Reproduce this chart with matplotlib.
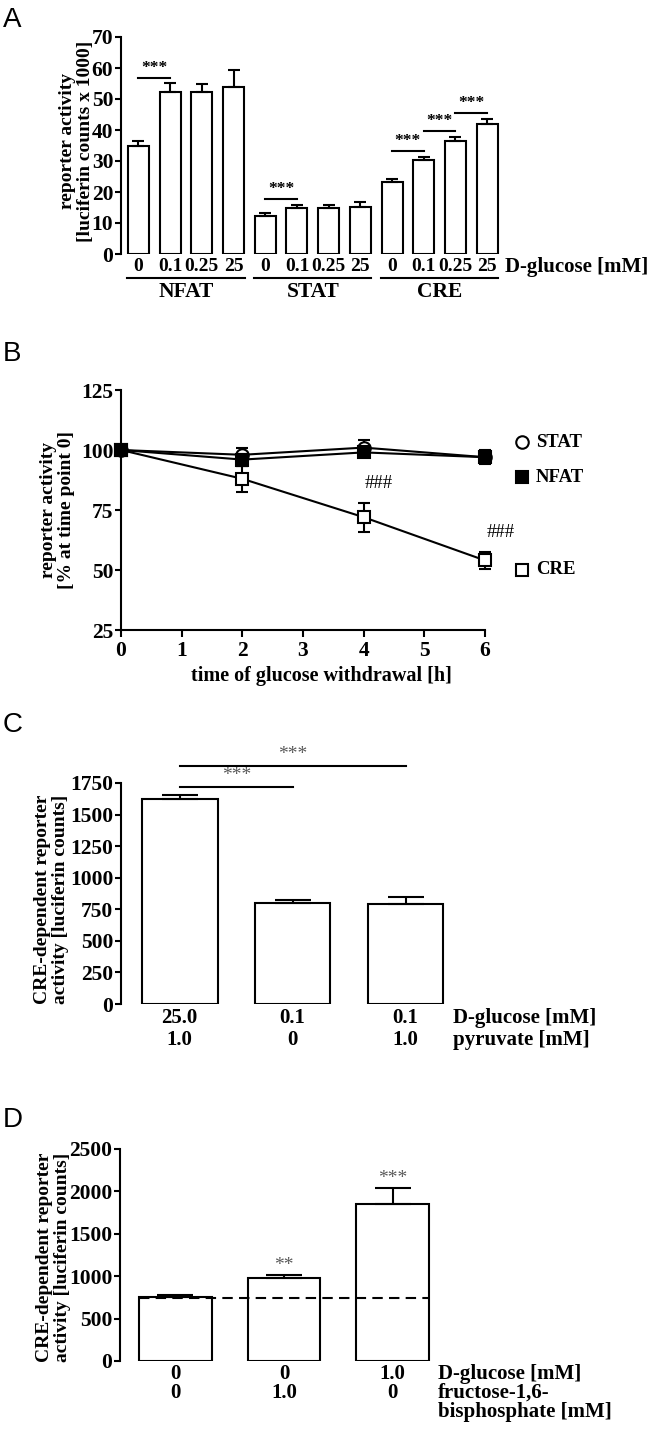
import matplotlib
matplotlib.use('Agg')
from matplotlib import pyplot as plt
import numpy as np

plt.rcParams['font.family'] = ['Liberation Serif', 'DejaVu Serif']
plt.rcParams['font.weight'] = 'bold'
plt.rcParams['axes.labelweight'] = 'bold'
plt.rcParams['axes.linewidth'] = 1.5

# panel A: reporter activity vs D-glucose
glucose_a = ['0', '0.1', '0.25', '25']
reporters_a = ['NFAT', 'STAT', 'CRE']
act_a = [35.0, 52.3, 52.3, 53.8, 12.4, 14.9, 14.9, 15.3, 23.3, 30.4, 36.3, 42.0]
err_a = [1.5, 2.8, 2.4, 5.4, 0.8, 1.0, 1.0, 1.5, 0.9, 1.0, 1.5, 1.7]
sig_a = [(0, 1), (4, 5), (8, 9), (9, 10), (10, 11)]

# panel B: time course of glucose withdrawal
hours_b = [0, 2, 4, 6]
stat_b = [100, 98, 101, 97]
stat_err_b = [0, 3, 3, 2]
nfat_b = [100, 96, 99, 97]
nfat_err_b = [0, 2.5, 2, 3]
cre_b = [100, 88, 72, 54]
cre_err_b = [0, 5.5, 6, 3.5]
hash_b = [4, 6]

# panel C: pyruvate
glucose_c = ['25.0', '0.1', '0.1']
pyruvate_c = ['1.0', '0', '1.0']
cre_c = [1625, 800, 795]
cre_err_c = [30, 20, 52]
sig_c = [(0, 1), (0, 2)]

# panel D: fructose-1,6-bisphosphate
glucose_d = ['0', '0', '1.0']
fbp_d = ['0', '1.0', '0']
cre_d = [755, 980, 1852]
cre_err_d = [23, 34, 190]
stars_d = ['', '**', '***']
baseline_d = 740

W, H = 652, 1431
fig = plt.figure(figsize=(W / 100, H / 100), dpi=100)


def axes_px(left, top, right, bottom):
    return fig.add_axes([left / W, 1 - bottom / H, (right - left) / W, (bottom - top) / H])


def style(ax, bottom=False):
    for s in ['top', 'right']:
        ax.spines[s].set_visible(False)
    ax.spines['bottom'].set_visible(bottom)
    ax.tick_params(axis='y', direction='out', length=4.5, width=1.5, pad=1, labelsize=15.5)


def letter(y, s):
    fig.text(3 / W, 1 - y / H, s, family='Liberation Sans', weight='normal',
             fontsize=20, va='center', ha='left')


# ---------------- A ----------------
ax = axes_px(121, 37, 503, 254)
style(ax)
xa = np.arange(len(act_a))
ax.bar(xa, act_a, width=0.66, color='white', edgecolor='black', linewidth=1.5,
       yerr=[np.zeros(len(err_a)), err_a], capsize=4.5,
       error_kw=dict(elinewidth=1.5, capthick=1.5))
ax.set_xlim(-0.55, 11.5)
ax.set_ylim(0, 70)
ax.set_yticks(range(0, 71, 10))
ax.set_xticks(xa)
ax.set_xticklabels(glucose_a * 3, fontsize=14)
ax.tick_params(axis='x', length=0, pad=3)
tops = np.array(act_a) + np.array(err_a)
for i, j in sig_a:
    y = max(tops[i], tops[j]) + 1.8
    ax.plot([i, j], [y, y], color='black', lw=1.5, clip_on=False)
    ax.text((i + j) / 2, y + 0.6, '***', ha='center', va='bottom', fontsize=12.5)
tr = ax.get_xaxis_transform()
for g, name in enumerate(reporters_a):
    x0, x1 = 4 * g - 0.35, 4 * g + 3 + 0.35
    ax.plot([x0, x1], [-0.11, -0.11], transform=tr, color='black', lw=1.5, clip_on=False)
    ax.text((x0 + x1) / 2, -0.175, name, transform=tr, ha='center', va='center', fontsize=15.5)
ax.text(1.005, -0.06, 'D-glucose [mM]', transform=ax.transAxes, ha='left', va='center', fontsize=15)
ax.set_ylabel('reporter activity\n[luciferin counts x 1000]', fontsize=14, linespacing=1.1)
ax.yaxis.set_label_coords(-0.07, 0.52)
letter(20, 'A')

# ---------------- B ----------------
ax = axes_px(121, 390, 485, 630)
style(ax, bottom=True)
eb = dict(lw=1.5, elinewidth=1.5, capsize=4.5, capthick=1.5, color='black', ms=9, mew=1.5)
series_b = [
    (cre_b, cre_err_b, 's', 'white'),
    (stat_b, stat_err_b, 'o', 'white'),
    (nfat_b, nfat_err_b, 's', 'black'),
]
for z, (vals, errs, m, fc) in enumerate(series_b):
    cont = ax.errorbar(hours_b, vals, yerr=errs, marker=m, mfc=fc, mec='black', zorder=2 + z, **eb)
    for art in cont.get_children():
        art.set_clip_on(False)
for t in hash_b:
    k = hours_b.index(t)
    ax.annotate('###', (t, cre_b[k] + cre_err_b[k]), xytext=(11, 8), textcoords='offset points',
                ha='center', va='bottom', fontsize=13.5, weight='normal')
ax.set_xlim(0, 6)
ax.set_ylim(25, 125)
ax.set_xticks(range(0, 7))
ax.set_yticks(range(25, 126, 25))
ax.tick_params(axis='x', direction='out', length=5, width=1.5, pad=3, labelsize=15.5)
ax.set_xlabel('time of glucose withdrawal [h]', fontsize=14.5)
ax.xaxis.set_label_coords(0.552, -0.15)
ax.set_ylabel('reporter activity\n[% at time point 0]', fontsize=14, linespacing=1.1)
ax.yaxis.set_label_coords(-0.126, 0.5)
legend_b = [('STAT', 'o', 'white', 0.783), ('NFAT', 's', 'black', 0.6375), ('CRE', 's', 'white', 0.25)]
for name, m, fc, y in legend_b:
    ax.plot([1.103], [y], transform=ax.transAxes, marker=m, mfc=fc, mec='black', ms=9, mew=1.5,
            clip_on=False)
    ax.text(1.14, y, name, transform=ax.transAxes, ha='left', va='center', fontsize=13.5)
letter(354, 'B')

# ---------------- C ----------------
ax = axes_px(121, 783, 462, 1004)
style(ax)
xc = np.arange(len(cre_c))
ax.bar(xc, cre_c, width=0.67, color='white', edgecolor='black', linewidth=1.5,
       yerr=[np.zeros(len(cre_err_c)), cre_err_c], capsize=13,
       error_kw=dict(elinewidth=1.5, capthick=1.5))
ax.set_xlim(-0.52, 2.5)
ax.set_ylim(0, 1750)
ax.set_yticks(range(0, 1751, 250))
ax.set_xticks(xc)
ax.set_xticklabels([f'{g}\n{p}' for g, p in zip(glucose_c, pyruvate_c)], fontsize=15, linespacing=1.15)
ax.tick_params(axis='x', length=0, pad=3)
top_c = max(np.array(cre_c) + np.array(cre_err_c))
for k, (i, j) in enumerate(sig_c):
    y = top_c + 63 + 166 * k
    ax.plot([i, j], [y, y], color='black', lw=1.5, clip_on=False)
    ax.text((i + j) / 2, y + 25, '***', ha='center', va='bottom', fontsize=14,
            weight='normal', color='0.35')
ax.annotate('D-glucose [mM]\npyruvate [mM]', xy=(2.42, 0), xycoords=('data', 'axes fraction'),
            xytext=(0, -3), textcoords='offset points', ha='left', va='top', fontsize=15,
            linespacing=1.15)
ax.set_ylabel('CRE-dependent reporter\nactivity [luciferin counts]', fontsize=14, linespacing=1.1)
ax.yaxis.set_label_coords(-0.152, 0.475)
letter(725, 'C')

# ---------------- D ----------------
ax = axes_px(120, 1149, 447, 1361)
style(ax)
xd = np.arange(len(cre_d))
ax.bar(xd, cre_d, width=0.67, color='white', edgecolor='black', linewidth=1.5,
       yerr=[np.zeros(len(cre_err_d)), cre_err_d], capsize=13,
       error_kw=dict(elinewidth=1.5, capthick=1.5))
ax.plot([xd[0] - 0.335, xd[-1] + 0.335], [baseline_d, baseline_d], color='black', lw=1.5,
        dashes=(5, 3), zorder=3)
for k, s in enumerate(stars_d):
    if s:
        ax.text(xd[k], cre_d[k] + cre_err_d[k] + 15, s, ha='center', va='bottom', fontsize=14,
                weight='normal', color='0.35')
ax.set_xlim(-0.51, 2.5)
ax.set_ylim(0, 2500)
ax.set_yticks(range(0, 2501, 500))
ax.set_xticks(xd)
ax.set_xticklabels([f'{g}\n{f}' for g, f in zip(glucose_d, fbp_d)], fontsize=15, linespacing=0.95)
ax.tick_params(axis='x', length=0, pad=2)
ax.annotate('D-glucose [mM]\nfructose-1,6-\nbisphosphate [mM]', xy=(2.42, 0),
            xycoords=('data', 'axes fraction'), xytext=(0, -2), textcoords='offset points',
            ha='left', va='top', fontsize=15, linespacing=0.95)
ax.set_ylabel('CRE-dependent reporter\nactivity [luciferin counts]', fontsize=14, linespacing=1.1)
ax.yaxis.set_label_coords(-0.15, 0.49)
letter(1120, 'D')

fig.savefig('out.png', dpi=100)
